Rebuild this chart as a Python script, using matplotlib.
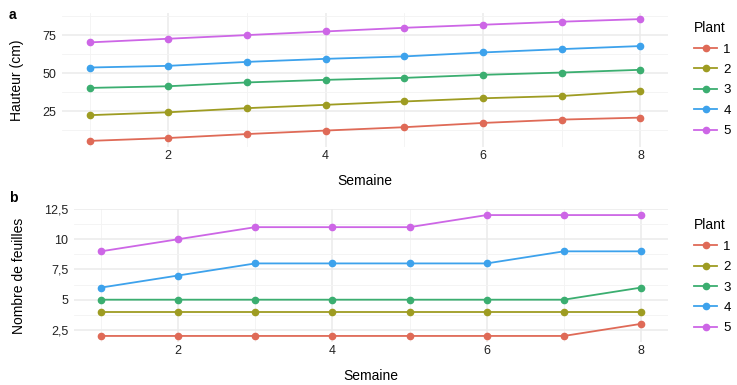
import numpy as np
import matplotlib
matplotlib.use('Agg')
import matplotlib.pyplot as plt
from matplotlib.ticker import FixedLocator, FuncFormatter

semaines = [1, 2, 3, 4, 5, 6, 7, 8]
plantes = ['1', '2', '3', '4', '5']

# hauteur (cm) par plante
hauteur_1 = [5.5, 7.4, 10.0, 12.3, 14.5, 17.3, 19.5, 20.8]
hauteur_2 = [22.4, 24.3, 27.0, 29.2, 31.4, 33.5, 35.0, 38.2]
hauteur_3 = [40.3, 41.4, 43.9, 45.6, 46.9, 48.9, 50.4, 52.2]
hauteur_4 = [53.7, 54.8, 57.4, 59.4, 61.0, 63.6, 65.8, 67.8]
hauteur_5 = [70.2, 72.6, 75.0, 77.4, 79.8, 81.8, 83.8, 85.5]

# nombre de feuilles par plante
feuilles_1 = [2, 2, 2, 2, 2, 2, 2, 3]
feuilles_2 = [4, 4, 4, 4, 4, 4, 4, 4]
feuilles_3 = [5, 5, 5, 5, 5, 5, 5, 6]
feuilles_4 = [6, 7, 8, 8, 8, 8, 9, 9]
feuilles_5 = [9, 10, 11, 11, 11, 12, 12, 12]

hauteurs = [hauteur_1, hauteur_2, hauteur_3, hauteur_4, hauteur_5]
feuilles = [feuilles_1, feuilles_2, feuilles_3, feuilles_4, feuilles_5]

couleurs = ['#DF6A57', '#9E9C22', '#3BAE70', '#3DA2EC', '#CD66E6']

plt.rcParams['font.family'] = ['Liberation Sans', 'DejaVu Sans']

fig = plt.figure(figsize=(7.37, 3.85), dpi=100)
ax_a = fig.add_axes([0.0841, 0.6182, 0.8223, 0.348])
ax_b = fig.add_axes([0.1004, 0.1117, 0.806, 0.3454])


def virgule(v, pos):
  s = ('%g' % v).replace('.', ',')
  return s


def style(ax, ymaj, ymin, ylim, ylabel, ypad):
  ax.set_xlim(0.65, 8.35)
  ax.set_ylim(*ylim)
  for s in ax.spines.values():
    s.set_visible(False)
  ax.xaxis.set_major_locator(FixedLocator([2, 4, 6, 8]))
  ax.xaxis.set_minor_locator(FixedLocator([1, 3, 5, 7]))
  ax.yaxis.set_major_locator(FixedLocator(ymaj))
  ax.yaxis.set_minor_locator(FixedLocator(ymin))
  ax.yaxis.set_major_formatter(FuncFormatter(virgule))
  ax.grid(which='major', color='#EBEBEB', lw=1.1)
  ax.grid(which='minor', color='#F3F3F3', lw=0.6)
  ax.set_axisbelow(True)
  ax.tick_params(which='both', length=0, labelsize=9, labelcolor='#222222')
  ax.tick_params(axis='x', pad=2.5)
  ax.tick_params(axis='y', pad=4)
  ax.set_xlabel('Semaine', fontsize=10, labelpad=8)
  ax.set_ylabel(ylabel, fontsize=10, labelpad=ypad)


for i in range(5):
  ax_a.plot(semaines, hauteurs[i], color=couleurs[i], lw=1.3, marker='o', ms=4.5, label=plantes[i])
  ax_b.plot(semaines, feuilles[i], color=couleurs[i], lw=1.3, marker='o', ms=4.5, label=plantes[i])

style(ax_a, [25, 50, 75], [12.5, 37.5, 62.5, 87.5], (1.5, 89.5), 'Hauteur (cm)', 13)
style(ax_b, [2.5, 5, 7.5, 10, 12.5], [3.75, 6.25, 8.75, 11.25], (1.5, 12.5), 'Nombre de feuilles', 13)

for ax, y in [(ax_a, 0.962), (ax_b, 0.45)]:
  leg = ax.legend(loc='upper left', bbox_to_anchor=(0.933, y), bbox_transform=fig.transFigure,
                  title='Plant', frameon=False, fontsize=9.5, title_fontsize=10,
                  handlelength=1.75, handletextpad=0.45, labelspacing=0.62, borderpad=0)
  leg._legend_box.align = 'left'

fig.text(0.012, 0.98, 'a', fontsize=10, fontweight='bold', va='top')
fig.text(0.012, 0.505, 'b', fontsize=10, fontweight='bold', va='top')

plt.savefig('out.png', dpi=100)
